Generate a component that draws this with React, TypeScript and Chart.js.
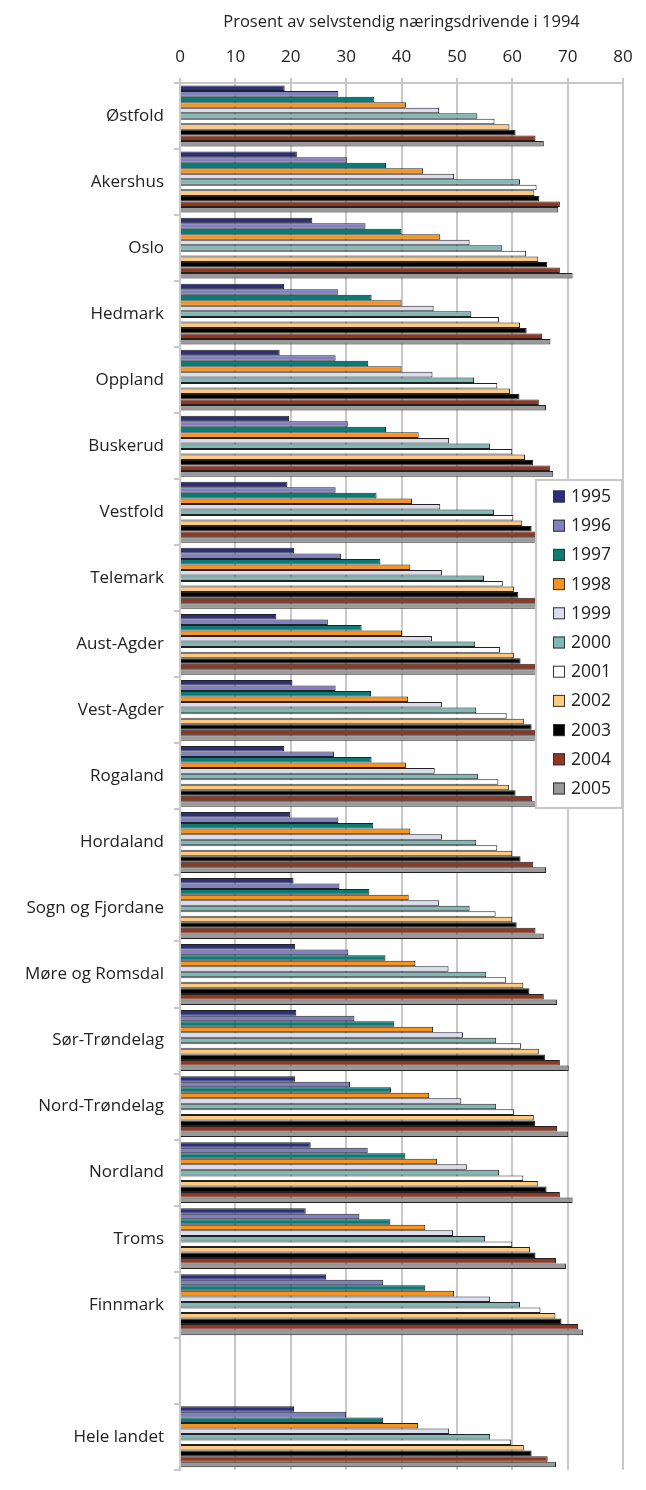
import { useEffect, useRef } from 'react';
import { Chart, registerables } from 'chart.js';

Chart.register(...registerables);

const categories = [
  'Østfold', 'Akershus', 'Oslo', 'Hedmark', 'Oppland', 'Buskerud', 'Vestfold', 'Telemark',
  'Aust-Agder', 'Vest-Agder', 'Rogaland', 'Hordaland', 'Sogn og Fjordane', 'Møre og Romsdal',
  'Sør-Trøndelag', 'Nord-Trøndelag', 'Nordland', 'Troms', 'Finnmark', '', 'Hele landet',
];

const years = ['1995', '1996', '1997', '1998', '1999', '2000', '2001', '2002', '2003', '2004', '2005'];

const v1995 = [18.9, 21.1, 23.9, 18.8, 18.0, 19.7, 19.4, 20.6, 17.4, 20.3, 18.8, 19.9, 20.5, 20.8, 21.0, 20.8, 23.6, 22.7, 26.4, null, 20.6];
const v1996 = [28.6, 30.2, 33.5, 28.5, 28.1, 30.3, 28.1, 29.1, 26.7, 28.1, 27.8, 28.6, 28.8, 30.4, 31.5, 30.7, 33.9, 32.4, 36.7, null, 30.0];
const v1997 = [35.1, 37.2, 40.0, 34.6, 34.0, 37.2, 35.5, 36.2, 32.8, 34.5, 34.6, 34.9, 34.2, 37.1, 38.7, 38.1, 40.7, 38.0, 44.3, null, 36.7];
const v1998 = [40.8, 43.9, 47.0, 40.0, 40.0, 43.1, 41.9, 41.6, 40.1, 41.2, 40.8, 41.6, 41.3, 42.5, 45.7, 45.0, 46.4, 44.3, 49.5, null, 43.0];
const v1999 = [46.8, 49.5, 52.3, 45.8, 45.6, 48.6, 47.0, 47.3, 45.5, 47.3, 46.0, 47.3, 46.8, 48.5, 51.1, 50.8, 51.8, 49.3, 56.0, null, 48.6];
const v2000 = [53.7, 61.4, 58.2, 52.6, 53.1, 56.0, 56.7, 54.9, 53.3, 53.5, 53.8, 53.5, 52.3, 55.3, 57.1, 57.1, 57.6, 55.1, 61.4, null, 56.0];
const v2001 = [56.8, 64.4, 62.5, 57.6, 57.3, 60.0, 60.2, 58.3, 57.8, 59.0, 57.5, 57.3, 57.0, 58.9, 61.6, 60.3, 62.0, 60.0, 65.1, null, 59.8];
const v2002 = [59.5, 64.0, 64.7, 61.4, 59.6, 62.3, 61.8, 60.3, 60.3, 62.1, 59.4, 60.0, 60.0, 62.0, 64.8, 63.9, 64.7, 63.2, 67.8, null, 62.1];
const v2003 = [60.6, 64.9, 66.3, 62.6, 61.3, 63.8, 63.5, 61.1, 61.5, 63.5, 60.6, 61.5, 60.8, 63.1, 65.9, 64.1, 66.2, 64.2, 68.9, null, 63.5];
const v2004 = [64.2, 68.6, 68.6, 65.4, 64.8, 66.8, 66.5, 64.5, 65.0, 66.0, 63.6, 63.8, 64.2, 65.7, 68.6, 68.1, 68.6, 67.9, 71.9, null, 66.4];
const v2005 = [65.7, 68.3, 70.9, 66.9, 66.1, 67.4, 68.0, 66.5, 67.0, 68.0, 65.7, 66.1, 65.7, 68.1, 70.2, 70.1, 70.9, 69.7, 72.8, null, 67.9];

const seriesValues = [v1995, v1996, v1997, v1998, v1999, v2000, v2001, v2002, v2003, v2004, v2005];

const colors = ['#2b2f7e', '#7f7fc3', '#0b7b75', '#f7941e', '#dcdcef', '#7fb9b5', '#ffffff', '#fdca7f', '#000000', '#953620', '#999999'];

const axisTitle = 'Prosent av selvstendig næringsdrivende i 1994';

const FONT = '"Open Sans", sans-serif';
const TEXT = '#222222';
const GRID = '#c8c8c8';

const legendPlugin = {
  id: 'insideLegend',
  afterDraw(chart: any) {
    const { ctx, chartArea } = chart;
    const right = chartArea.right - 1;
    const left = right - 86;
    const top = chartArea.top + 397;
    const height = 328;
    ctx.save();
    ctx.fillStyle = '#ffffff';
    ctx.fillRect(left, top, right - left, height);
    ctx.strokeStyle = GRID;
    ctx.lineWidth = 2;
    ctx.strokeRect(left, top, right - left, height);
    ctx.font = `17.5px ${FONT}`;
    ctx.textBaseline = 'middle';
    ctx.textAlign = 'left';
    years.forEach((y, i) => {
      const cy = top + 16.5 + i * 29.2;
      ctx.fillStyle = colors[i];
      ctx.fillRect(left + 17, cy - 6, 12, 12);
      ctx.strokeStyle = '#333333';
      ctx.lineWidth = 1;
      ctx.strokeRect(left + 17.5, cy - 5.5, 11, 11);
      ctx.fillStyle = TEXT;
      ctx.fillText(y, left + 35, cy + 0.5);
    });
    ctx.restore();
  },
};

export default function App() {
  const canvasRef = useRef<HTMLCanvasElement | null>(null);

  useEffect(() => {
    document.body.style.margin = '0';
    const canvas = canvasRef.current;
    if (!canvas) return;
    const chart = new Chart(canvas, {
      type: 'bar',
      data: {
        labels: categories,
        datasets: years.map((y, i) => ({
          label: y,
          data: seriesValues[i],
          backgroundColor: colors[i],
          borderColor: '#222222',
          borderWidth: 1,
          categoryPercentage: 0.922,
          barPercentage: 1,
        })),
      },
      options: {
        indexAxis: 'y',
        responsive: false,
        animation: false,
        maintainAspectRatio: false,
        layout: { padding: { left: 0, right: 23, top: 0, bottom: 4 } },
        plugins: {
          legend: { display: false },
          tooltip: { enabled: false },
          title: { display: false },
        },
        scales: {
          x: {
            position: 'top',
            min: 0,
            max: 80,
            ticks: {
              stepSize: 10,
              color: TEXT,
              font: { family: FONT, size: 17 },
              padding: 11,
            },
            grid: {
              color: GRID,
              lineWidth: 2,
              tickLength: 5,
              drawTicks: true,
            },
            border: { display: true, color: GRID, width: 2 },
            title: {
              display: true,
              text: axisTitle,
              color: TEXT,
              font: { family: FONT, size: 16.5 },
              padding: { top: 12, bottom: 0 },
            },
            afterFit(scale: any) {
              scale.height = 83;
            },
          },
          y: {
            ticks: {
              color: TEXT,
              font: { family: FONT, size: 17 },
              padding: 10,
              autoSkip: false,
            },
            grid: {
              offset: true,
              drawOnChartArea: false,
              drawTicks: true,
              tickLength: 6,
              color: GRID,
              lineWidth: 2,
            },
            border: { display: true, color: GRID, width: 2 },
            afterFit(scale: any) {
              scale.width = 180;
            },
          },
        },
      },
      plugins: [legendPlugin],
    });
    return () => chart.destroy();
  }, []);

  return (
    <div style={{ width: 646, height: 1490 }}>
      <canvas ref={canvasRef} width={646} height={1490} style={{ display: 'block', width: 646, height: 1490 }} />
    </div>
  );
}
